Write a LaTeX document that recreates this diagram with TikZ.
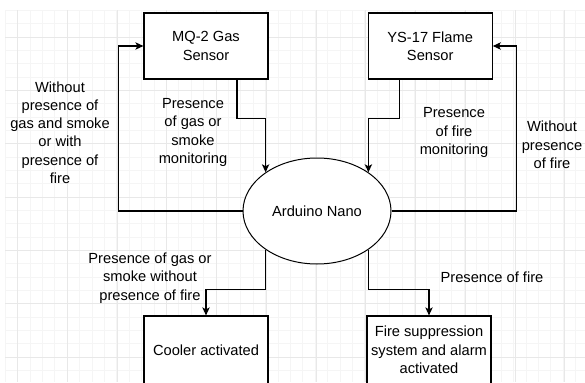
\documentclass[tikz,border=0pt]{standalone}
\usepackage{fontspec}
\setmainfont{Liberation Sans}
\usetikzlibrary{arrows.meta,positioning,calc,shapes.geometric}

\begin{document}
\begin{tikzpicture}[
    x=0.75pt, y=-0.75pt,
    font=\fontsize{11pt}{13.7pt}\selectfont,
    block/.style={draw, line width=0.9pt, fill=white, minimum width=93pt, minimum height=49.5pt, align=center, inner sep=1pt},
    lowblock/.style={block, minimum height=51pt},
    mcu/.style={draw, ellipse, line width=0.75pt, fill=white, minimum width=111pt, minimum height=79.5pt},
    note/.style={align=center, inner sep=0pt},
    conn/.style={-{Stealth[length=6pt, width=5.5pt, inset=1.5pt]}, line width=0.85pt},
    gridminor/.style={black!4, line width=0.5pt},
    gridmajor/.style={black!9, line width=0.6pt}
]
% canvas with the editor grid
\useasboundingbox (0,0) rectangle (585,382);
\fill[white] (0,0) rectangle (585,382);
\foreach \gx in {5.1,17.5,...,585} \draw[gridminor] (\gx,10) -- (\gx,382);
\foreach \gy in {10.3,23.63,...,382} \draw[gridminor] (5,\gy) -- (585,\gy);
\foreach \gx in {17.5,67.25,...,585} \draw[gridmajor] (\gx,10) -- (\gx,382);
\foreach \gy in {37,90.33,...,382} \draw[gridmajor] (5,\gy) -- (585,\gy);

% blocks
\node[block] (gas) at (206,46) {MQ-2 Gas\\Sensor};
\node[block, right=74.25pt of gas] (flame) {YS-17 Flame\\Sensor};
\node[mcu] (ard) at (317,211) {Arduino Nano};
\node[lowblock] (cooler) at (206,350) {Cooler activated};
\node[lowblock] (fire) at (429,350) {Fire suppression\\system and alarm\\activated};

% labels
\node[note] (lblback) at (60,132.5) {Without\\presence of\\gas and smoke\\or with\\presence of\\fire};
\node[note] (lblgas) at (193,132.5) {Presence\\of gas or\\smoke\\monitoring};
\node[note] (lblflame) at (454,132.5) {Presence\\of fire\\monitoring};
\node[note] (lblnofire) at (552,145) {Without\\presence\\of fire};
\node[note] (lblcool) at (150,278) {Presence of gas or\\smoke without\\presence of fire};
\node[note] (lblfire) at (492,277) {Presence of fire};

% connectors
\draw[conn] ($(gas.south)+(31,0)$) -- ++(0,39) -| (ard.143);
\draw[conn] ($(flame.south)+(-31,0)$) -- ++(0,39) -| (ard.37);
\draw[conn] (ard.west) -- ++(-124,0) |- (gas.west);
\draw[conn] (ard.east) -- ++(125,0) |- (flame.east);
\draw[conn] (ard.217) |- ($(cooler.north)+(0,-26)$) -- (cooler.north);
\draw[conn] (ard.323) |- ($(fire.north)+(0,-26)$) -- (fire.north);
\end{tikzpicture}
\end{document}
